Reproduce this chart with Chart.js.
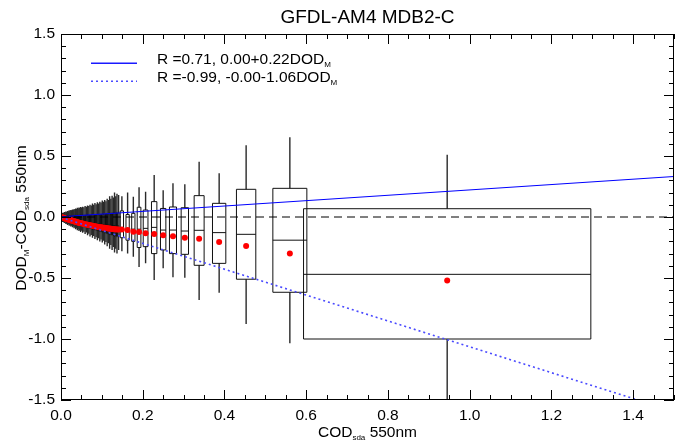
<!DOCTYPE html>
<html><head><meta charset="utf-8">
<script src="https://cdn.jsdelivr.net/npm/chart.js@4.4.1/dist/chart.umd.min.js"></script>
<style>html,body{margin:0;padding:0;background:#fff;}#wrap{width:681px;height:442px;}</style>
</head><body><div id="wrap"><canvas id="c" width="681" height="442"></canvas></div>
<script>
// ---- data ----
const binCenter = [
  0.002,0.004,0.006,0.008,0.010, 0.012,0.014,0.016,0.018,0.020, 0.022,0.024,0.026,0.028,0.030,
  0.032,0.034,0.036,0.038,0.040, 0.042,0.044,0.046,0.048,0.050, 0.053,0.056,0.059,0.062,0.065,
  0.068,0.071,0.074,0.077,0.080, 0.083,0.086,0.089,0.092,0.095, 0.098,0.101,0.104,0.107,0.110,
  0.113,0.116,0.119,0.122,0.125, 0.128,0.131,0.134,0.137,0.141,
  0.149,0.163,0.177,0.191,0.207,0.228,0.250,0.274,0.303,0.338,0.387,0.453,0.560,0.945];
const binHalfWidth = [
  0.0008,0.0008,0.0008,0.0008,0.0008, 0.0008,0.0008,0.0008,0.0008,0.0008, 0.0008,0.0008,0.0008,0.0008,0.0008,
  0.0008,0.0008,0.0008,0.0008,0.0008, 0.0008,0.0008,0.0008,0.0008,0.0008, 0.0011,0.0011,0.0011,0.0011,0.0011,
  0.0011,0.0011,0.0011,0.0011,0.0011, 0.0011,0.0011,0.0011,0.0011,0.0011, 0.0011,0.0011,0.0011,0.0011,0.0011,
  0.0011,0.0011,0.0011,0.0011,0.0011, 0.0011,0.0011,0.0011,0.0011,0.0013,
  0.004,0.004,0.004,0.0045,0.0058,0.0066,0.0066,0.0086,0.009,0.0122,0.0163,0.0237,0.0416,0.3515];
const whiskerLow = [
  -0.035,-0.042,-0.04,-0.05,-0.048, -0.058,-0.055,-0.065,-0.06,-0.072, -0.066,-0.078,-0.072,-0.085,-0.078,
  -0.092,-0.085,-0.1,-0.092,-0.108, -0.1,-0.115,-0.106,-0.122,-0.112, -0.13,-0.12,-0.14,-0.128,-0.15,
  -0.138,-0.16,-0.148,-0.17,-0.155, -0.18,-0.165,-0.19,-0.175,-0.2, -0.185,-0.21,-0.195,-0.225,-0.205,
  -0.24,-0.215,-0.26,-0.23,-0.27, -0.245,-0.29,-0.26,-0.3,-0.27,
  -0.28,-0.30,-0.325,-0.41,-0.38,-0.516,-0.42,-0.494,-0.497,-0.68,-0.62,-0.877,-1.035,-1.60];
const quartile1 = [
  -0.010,-0.014,-0.015,-0.019,-0.020, -0.024,-0.025,-0.029,-0.030,-0.034, -0.035,-0.039,-0.040,-0.044,-0.045,
  -0.049,-0.050,-0.054,-0.055,-0.059, -0.060,-0.064,-0.065,-0.069,-0.070, -0.075,-0.076,-0.081,-0.082,-0.087,
  -0.088,-0.093,-0.094,-0.099,-0.100, -0.105,-0.106,-0.111,-0.112,-0.117, -0.118,-0.123,-0.124,-0.129,-0.130,
  -0.136,-0.136,-0.143,-0.142,-0.149, -0.148,-0.156,-0.154,-0.161,-0.160,
  -0.17,-0.19,-0.20,-0.25,-0.243,-0.30,-0.27,-0.30,-0.306,-0.396,-0.38,-0.51,-0.617,-1.00];
const median = [
  -0.001,-0.003,-0.005,-0.006,-0.008, -0.010,-0.011,-0.013,-0.014,-0.015, -0.017,-0.018,-0.020,-0.022,-0.023,
  -0.025,-0.026,-0.027,-0.029,-0.030, -0.032,-0.033,-0.034,-0.036,-0.037, -0.038,-0.040,-0.041,-0.043,-0.045,
  -0.046,-0.048,-0.049,-0.050,-0.052, -0.053,-0.055,-0.056,-0.057,-0.058, -0.060,-0.061,-0.062,-0.063,-0.064,
  -0.065,-0.066,-0.067,-0.068,-0.069, -0.070,-0.071,-0.072,-0.073,-0.074,
  -0.09,-0.10,-0.10,-0.10,-0.093,-0.085,-0.107,-0.107,-0.115,-0.109,-0.128,-0.142,-0.19,-0.47];
const quartile3 = [
  0.008,0.009,0.008,0.010,0.009, 0.010,0.009,0.011,0.010,0.011, 0.010,0.012,0.011,0.012,0.011,
  0.013,0.012,0.013,0.012,0.014, 0.013,0.014,0.013,0.015,0.014, 0.015,0.014,0.016,0.015,0.017,
  0.016,0.018,0.017,0.019,0.018, 0.020,0.019,0.021,0.020,0.022, 0.021,0.024,0.022,0.026,0.024,
  0.028,0.026,0.031,0.028,0.033, 0.030,0.036,0.032,0.038,0.035,
  0.05,0.02,0.03,0.08,0.057,0.126,0.07,0.082,0.076,0.175,0.112,0.227,0.235,0.068];
const whiskerHigh = [
  0.03,0.035,0.032,0.04,0.038, 0.045,0.042,0.05,0.047,0.055, 0.05,0.058,0.055,0.062,0.058,
  0.066,0.062,0.07,0.066,0.075, 0.07,0.078,0.074,0.082,0.077, 0.085,0.08,0.09,0.085,0.095,
  0.09,0.1,0.095,0.11,0.1, 0.115,0.105,0.12,0.11,0.125, 0.118,0.135,0.125,0.14,0.13,
  0.15,0.14,0.17,0.15,0.175, 0.16,0.2,0.17,0.19,0.18,
  0.17,0.20,0.166,0.243,0.207,0.344,0.22,0.276,0.268,0.453,0.358,0.588,0.653,0.51];
const binMean = [
  -0.002,-0.005,-0.007,-0.009,-0.012, -0.014,-0.016,-0.018,-0.020,-0.022, -0.024,-0.026,-0.028,-0.031,-0.033,
  -0.035,-0.037,-0.039,-0.041,-0.043, -0.045,-0.047,-0.049,-0.051,-0.052, -0.054,-0.057,-0.059,-0.061,-0.064,
  -0.066,-0.068,-0.070,-0.072,-0.074, -0.076,-0.078,-0.080,-0.081,-0.083, -0.085,-0.086,-0.088,-0.089,-0.091,
  -0.092,-0.094,-0.095,-0.097,-0.098, -0.099,-0.100,-0.101,-0.102,-0.102,
  -0.103,-0.107,-0.12,-0.123,-0.134,-0.14,-0.15,-0.158,-0.17,-0.178,-0.205,-0.238,-0.30,-0.52];
const fitR = [0.71, -0.99];
const fitIntercept = [0.002, -0.004];
const fitSlope = [0.22, -1.06];
const xRange = [0, 1.5];
const yRange = [-1.5, 1.5];
const xTickValues = [0.0,0.2,0.4,0.6,0.8,1.0,1.2,1.4];
const yTickValues = [-1.5,-1.0,-0.5,0.0,0.5,1.0,1.5];
const xMinorStep = 0.05, yMinorStep = 0.1;
const chartTitle = 'GFDL-AM4 MDB2-C';

// ---- styles ----
const FONT = "'Liberation Sans', Arial, Helvetica, sans-serif";
const FS = 15.5;
const SOLID_BLUE = '#0000ff';
const LEGEND_BLUE = '#1a1aff';
const DOT_BLUE = '#4a4aff';
const DOT_DASH = [2, 3];

function fitLine(i){ return xRange.map(v => ({x: v, y: fitIntercept[i] + fitSlope[i]*v})); }
function fmt(v){ return v.toFixed(2); }
function legendText(i){
  const s = fitSlope[i] >= 0 ? '+' + fmt(fitSlope[i]) : fmt(fitSlope[i]);
  return 'R =' + fmt(fitR[i]) + ', ' + fmt(fitIntercept[i]) + s + 'DOD';
}

function drawParts(ctx, parts, x, y, align){
  const widths = parts.map(p => { ctx.font = (p[1] ? 8 : FS) + 'px ' + FONT; return ctx.measureText(p[0]).width; });
  const total = widths.reduce((a,b)=>a+b,0);
  let cx = align === 'center' ? x - total/2 : x;
  ctx.textAlign = 'left'; ctx.textBaseline = 'alphabetic';
  parts.forEach((p,k) => {
    ctx.font = (p[1] ? 8 : FS) + 'px ' + FONT;
    ctx.fillText(p[0], cx, y + (p[1] ? 3 : 0));
    cx += widths[k];
  });
}

const boxPlugin = {
  id: 'boxes',
  beforeDatasetsDraw(chart){
    const {ctx, chartArea: a, scales: {x, y}} = chart;
    ctx.save();
    ctx.beginPath(); ctx.rect(a.left, a.top, a.right - a.left, a.bottom - a.top); ctx.clip();
    for (let i = 0; i < binCenter.length; i++){
      const xl = x.getPixelForValue(binCenter[i] - binHalfWidth[i]);
      const xr = x.getPixelForValue(binCenter[i] + binHalfWidth[i]);
      const xc = x.getPixelForValue(binCenter[i]);
      const y1 = y.getPixelForValue(quartile1[i]);
      const y3 = y.getPixelForValue(quartile3[i]);
      const ym = y.getPixelForValue(median[i]);
      const yl = y.getPixelForValue(whiskerLow[i]);
      const yh = y.getPixelForValue(whiskerHigh[i]);
      // whiskers
      ctx.strokeStyle = '#2a2a2a'; ctx.lineWidth = 1.4;
      ctx.beginPath();
      ctx.moveTo(xc, y3); ctx.lineTo(xc, yh);
      ctx.moveTo(xc, y1); ctx.lineTo(xc, yl);
      ctx.stroke();
      // box + median
      ctx.strokeStyle = '#111'; ctx.lineWidth = 1;
      ctx.beginPath();
      ctx.rect(xl, y3, xr - xl, y1 - y3);
      ctx.moveTo(xl, ym); ctx.lineTo(xr, ym);
      ctx.stroke();
    }
    ctx.restore();
  }
};

const framePlugin = {
  id: 'frame',
  afterDraw(chart){
    const {ctx, chartArea: a, scales: {x, y}} = chart;
    ctx.save();
    ctx.strokeStyle = '#000'; ctx.lineWidth = 1;
    ctx.strokeRect(a.left + 0.5, a.top + 0.5, a.right - a.left - 1, a.bottom - a.top - 1);
    ctx.beginPath();
    for (let v = xRange[0]; v <= xRange[1] + 1e-9; v += xMinorStep){
      const vv = Math.round(v*100)/100;
      const major = xTickValues.some(t => Math.abs(t - vv) < 1e-6);
      const L = major ? 10 : 5;
      const px = Math.round(x.getPixelForValue(vv)) + 0.5;
      ctx.moveTo(px, a.bottom); ctx.lineTo(px, a.bottom - L);
      ctx.moveTo(px, a.top); ctx.lineTo(px, a.top + L);
    }
    for (let v = yRange[0]; v <= yRange[1] + 1e-9; v += yMinorStep){
      const vv = Math.round(v*100)/100;
      const major = yTickValues.some(t => Math.abs(t - vv) < 1e-6);
      const L = major ? 10 : 5;
      const py = Math.round(y.getPixelForValue(vv)) + 0.5;
      ctx.moveTo(a.left, py); ctx.lineTo(a.left + L, py);
      ctx.moveTo(a.right, py); ctx.lineTo(a.right - L, py);
    }
    ctx.stroke();

    ctx.fillStyle = '#000';
    ctx.font = '19px ' + FONT; ctx.textAlign = 'center'; ctx.textBaseline = 'alphabetic';
    ctx.fillText(chartTitle, (a.left + a.right)/2, 23);
    drawParts(ctx, [['COD',0],['sda',1],[' 550nm',0]], (a.left + a.right)/2, 437, 'center');
    ctx.save();
    ctx.translate(26, (a.top + a.bottom)/2 + 1);
    ctx.rotate(-Math.PI/2);
    drawParts(ctx, [['DOD',0],['M',1],['-COD',0],['sda',1],[' 550nm',0]], 0, 0, 'center');
    ctx.restore();

    // legend
    const lx0 = 91, lx1 = 137, tx = 157;
    const rows = [64, 82];
    const styles = [[LEGEND_BLUE, [], 1.6], [DOT_BLUE, DOT_DASH, 1.6]];
    [0,1].forEach(k => {
      ctx.save();
      ctx.strokeStyle = styles[k][0]; ctx.lineWidth = styles[k][2];
      ctx.setLineDash(styles[k][1]);
      ctx.beginPath(); ctx.moveTo(lx0, rows[k] - 0.7); ctx.lineTo(lx1, rows[k] - 0.7); ctx.stroke();
      ctx.restore();
      ctx.fillStyle = '#000';
      drawParts(ctx, [[legendText(k),0],['M',1]], tx, rows[k], 'left');
    });
    ctx.restore();
  }
};

new Chart(document.getElementById('c'), {
  type: 'scatter',
  data: {
    datasets: [
      { type: 'line', label: 'zero', data: xRange.map(v => ({x: v, y: 0})), borderColor: '#000', borderWidth: 1, borderDash: [8,5], pointRadius: 0, fill: false },
      { type: 'line', label: legendText(0), data: fitLine(0), borderColor: SOLID_BLUE, borderWidth: 1.1, pointRadius: 0, fill: false },
      { type: 'line', label: legendText(1), data: fitLine(1), borderColor: DOT_BLUE, borderWidth: 1.6, borderDash: DOT_DASH, pointRadius: 0, fill: false },
      { label: 'mean', data: binCenter.map((c,i) => ({x: c, y: binMean[i]})), backgroundColor: '#ff0000', borderWidth: 0, pointRadius: 3 }
    ]
  },
  options: {
    responsive: false, animation: false, devicePixelRatio: 1,
    layout: { padding: { top: 34, right: 7, left: 0, bottom: 0 } },
    plugins: { legend: { display: false }, title: { display: false }, tooltip: { enabled: false } },
    scales: {
      x: {
        type: 'linear', min: xRange[0], max: xRange[1],
        grid: { display: false, drawTicks: false }, border: { display: false },
        ticks: { padding: 6, color: '#000', font: { family: FONT, size: FS }, maxRotation: 0, autoSkip: false, callback: v => Number(v).toFixed(1) },
        afterBuildTicks: s => { s.ticks = xTickValues.map(v => ({value: v})); },
        afterFit: s => { s.height = 42; }
      },
      y: {
        type: 'linear', min: yRange[0], max: yRange[1],
        grid: { display: false, drawTicks: false }, border: { display: false },
        ticks: { padding: 6, color: '#000', font: { family: FONT, size: FS }, autoSkip: false, callback: v => Number(v).toFixed(1) },
        afterBuildTicks: s => { s.ticks = yTickValues.map(v => ({value: v})); },
        afterFit: s => { s.width = 61; }
      }
    }
  },
  plugins: [boxPlugin, framePlugin]
});
</script>
</body></html>
